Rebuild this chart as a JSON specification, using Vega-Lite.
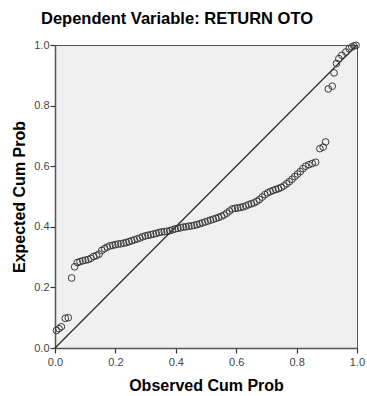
{
  "$schema": "https://vega.github.io/schema/vega-lite/v6.json",
  "autosize": {"type": "none"},
  "width": 302,
  "height": 303,
  "padding": {"left": 55, "top": 45, "right": 10, "bottom": 48},
  "background": "white",
  "title": {
    "text": "Dependent Variable: RETURN OTO",
    "font": "Liberation Sans",
    "fontSize": 16.5,
    "fontWeight": "bold",
    "color": "#000000",
    "anchor": "middle",
    "dx": -29,
    "offset": 12
  },
  "config": {
    "view": {"fill": "#f0f0f0", "stroke": "#555555", "strokeWidth": 1},
    "axis": {
      "labelFont": "Liberation Sans",
      "labelFontSize": 11,
      "labelColor": "#444444",
      "titleFont": "Liberation Sans",
      "titleFontSize": 16,
      "titleFontWeight": "bold",
      "titleColor": "#000000",
      "domainColor": "#555555",
      "domainWidth": 1.5,
      "tickColor": "#333333",
      "tickSize": 5,
      "tickWidth": 1.2,
      "grid": false
    }
  },
  "datasets": {
    "points": [
      {"obs": 0.005, "exp": 0.058}, {"obs": 0.013, "exp": 0.064}, {"obs": 0.021, "exp": 0.07}, {"obs": 0.034, "exp": 0.098}, {"obs": 0.044, "exp": 0.1},
      {"obs": 0.055, "exp": 0.231}, {"obs": 0.065, "exp": 0.268}, {"obs": 0.074, "exp": 0.282}, {"obs": 0.083, "exp": 0.285}, {"obs": 0.092, "exp": 0.288},
      {"obs": 0.101, "exp": 0.29}, {"obs": 0.11, "exp": 0.292}, {"obs": 0.119, "exp": 0.296}, {"obs": 0.128, "exp": 0.302}, {"obs": 0.137, "exp": 0.305},
      {"obs": 0.146, "exp": 0.31}, {"obs": 0.155, "exp": 0.322}, {"obs": 0.164, "exp": 0.328}, {"obs": 0.173, "exp": 0.333}, {"obs": 0.182, "exp": 0.337},
      {"obs": 0.191, "exp": 0.339}, {"obs": 0.2, "exp": 0.341}, {"obs": 0.209, "exp": 0.343}, {"obs": 0.218, "exp": 0.344}, {"obs": 0.227, "exp": 0.346},
      {"obs": 0.236, "exp": 0.348}, {"obs": 0.245, "exp": 0.351}, {"obs": 0.254, "exp": 0.354}, {"obs": 0.263, "exp": 0.357}, {"obs": 0.272, "exp": 0.36},
      {"obs": 0.281, "exp": 0.363}, {"obs": 0.29, "exp": 0.367}, {"obs": 0.299, "exp": 0.37}, {"obs": 0.308, "exp": 0.372}, {"obs": 0.317, "exp": 0.374},
      {"obs": 0.326, "exp": 0.376}, {"obs": 0.335, "exp": 0.378}, {"obs": 0.344, "exp": 0.381}, {"obs": 0.353, "exp": 0.383}, {"obs": 0.362, "exp": 0.384},
      {"obs": 0.371, "exp": 0.385}, {"obs": 0.38, "exp": 0.387}, {"obs": 0.389, "exp": 0.39}, {"obs": 0.398, "exp": 0.393}, {"obs": 0.407, "exp": 0.395},
      {"obs": 0.416, "exp": 0.397}, {"obs": 0.425, "exp": 0.399}, {"obs": 0.434, "exp": 0.4}, {"obs": 0.443, "exp": 0.402}, {"obs": 0.452, "exp": 0.403},
      {"obs": 0.461, "exp": 0.405}, {"obs": 0.47, "exp": 0.407}, {"obs": 0.479, "exp": 0.41}, {"obs": 0.488, "exp": 0.413}, {"obs": 0.497, "exp": 0.416},
      {"obs": 0.506, "exp": 0.419}, {"obs": 0.515, "exp": 0.422}, {"obs": 0.524, "exp": 0.425}, {"obs": 0.533, "exp": 0.428}, {"obs": 0.542, "exp": 0.431},
      {"obs": 0.551, "exp": 0.435}, {"obs": 0.56, "exp": 0.439}, {"obs": 0.569, "exp": 0.445}, {"obs": 0.578, "exp": 0.452}, {"obs": 0.587, "exp": 0.459},
      {"obs": 0.596, "exp": 0.461}, {"obs": 0.605, "exp": 0.462}, {"obs": 0.614, "exp": 0.464}, {"obs": 0.623, "exp": 0.466}, {"obs": 0.632, "exp": 0.469},
      {"obs": 0.641, "exp": 0.473}, {"obs": 0.65, "exp": 0.476}, {"obs": 0.659, "exp": 0.479}, {"obs": 0.668, "exp": 0.484}, {"obs": 0.677, "exp": 0.49},
      {"obs": 0.686, "exp": 0.498}, {"obs": 0.695, "exp": 0.506}, {"obs": 0.704, "exp": 0.512}, {"obs": 0.713, "exp": 0.516}, {"obs": 0.722, "exp": 0.52},
      {"obs": 0.731, "exp": 0.523}, {"obs": 0.74, "exp": 0.526}, {"obs": 0.749, "exp": 0.53}, {"obs": 0.758, "exp": 0.535}, {"obs": 0.767, "exp": 0.542},
      {"obs": 0.776, "exp": 0.549}, {"obs": 0.785, "exp": 0.557}, {"obs": 0.794, "exp": 0.566}, {"obs": 0.803, "exp": 0.574}, {"obs": 0.812, "exp": 0.582},
      {"obs": 0.821, "exp": 0.592}, {"obs": 0.83, "exp": 0.6}, {"obs": 0.841, "exp": 0.605}, {"obs": 0.852, "exp": 0.609}, {"obs": 0.863, "exp": 0.613},
      {"obs": 0.877, "exp": 0.658}, {"obs": 0.888, "exp": 0.663}, {"obs": 0.896, "exp": 0.68},
      {"obs": 0.905, "exp": 0.855}, {"obs": 0.918, "exp": 0.864}, {"obs": 0.924, "exp": 0.908}, {"obs": 0.932, "exp": 0.939}, {"obs": 0.94, "exp": 0.955},
      {"obs": 0.95, "exp": 0.966}, {"obs": 0.963, "exp": 0.977}, {"obs": 0.974, "exp": 0.988}, {"obs": 0.983, "exp": 0.994}, {"obs": 0.99, "exp": 0.997},
      {"obs": 0.997, "exp": 0.999}
    ],
    "diag": [{"x0": 0, "y0": 0, "x1": 1, "y1": 1}]
  },
  "layer": [
    {
      "data": {"name": "diag"},
      "mark": {"type": "rule", "color": "#222222", "strokeWidth": 1.1},
      "encoding": {
        "x": {"field": "x0", "type": "quantitative", "scale": {"domain": [0, 1], "nice": false}},
        "y": {"field": "y0", "type": "quantitative", "scale": {"domain": [0, 1], "nice": false}},
        "x2": {"field": "x1"},
        "y2": {"field": "y1"}
      }
    },
    {
      "data": {"name": "points"},
      "mark": {"type": "point", "shape": "circle", "filled": false, "stroke": "#3a3a3a", "strokeWidth": 1, "size": 45, "opacity": 1},
      "encoding": {
        "x": {
          "field": "obs", "type": "quantitative",
          "scale": {"domain": [0, 1], "nice": false},
          "axis": {"title": "Observed Cum Prob", "values": [0, 0.2, 0.4, 0.6, 0.8, 1.0], "format": ".1f", "labelPadding": 3, "titlePadding": 10, "labelFlush": false}
        },
        "y": {
          "field": "exp", "type": "quantitative",
          "scale": {"domain": [0, 1], "nice": false},
          "axis": {"title": "Expected Cum Prob", "values": [0, 0.2, 0.4, 0.6, 0.8, 1.0], "format": ".1f", "labelPadding": 1, "titlePadding": 6, "labelFlush": false}
        }
      }
    }
  ]
}
